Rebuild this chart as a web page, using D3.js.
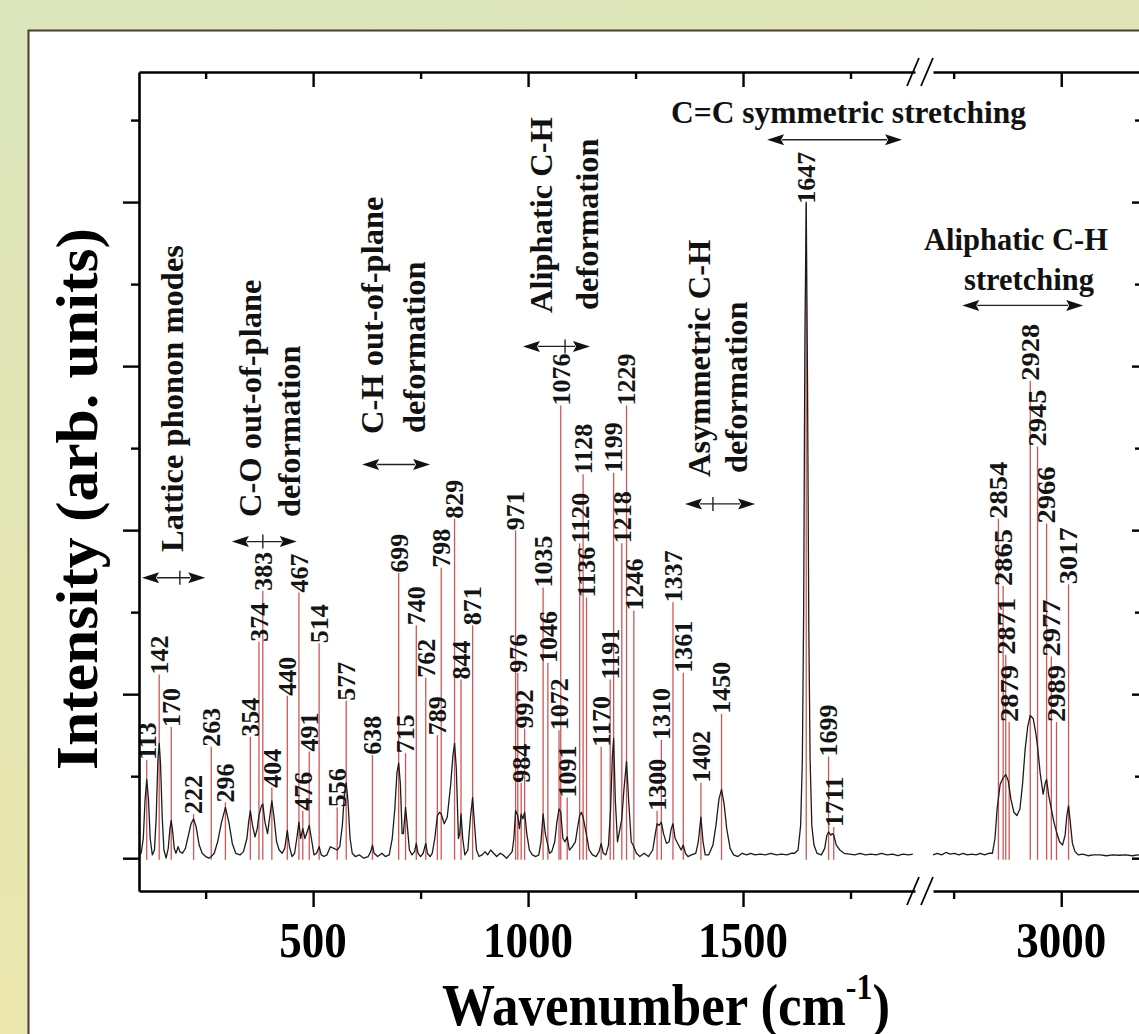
<!DOCTYPE html>
<html><head><meta charset="utf-8">
<script src="https://cdn.jsdelivr.net/npm/d3@7"></script>
<style>body{margin:0;background:#fff}svg{display:block}</style>
</head><body>
<svg id="chart" width="1139" height="1034"></svg>
<script>
// ---------------- DATA ----------------
// Raman spectrum, low-wavenumber segment: [wavenumber (cm-1), intensity (arb. units)]
const spectrumLow = [[95,0.02],[100,0.03],[105,0.12],[109,0.35],[113,0.48],[117,0.36],[121,0.12],[126,0.02],[131,0.05],[135,0.25],[139,0.6],[142,0.7],[145,0.58],[149,0.25],[153,0.05],[158,0.0],[163,0.06],[167,0.18],[170,0.23],[173,0.17],[177,0.06],[181,0.03],[186,0.07],[190,0.04],[196,0.03],[203,0.06],[210,0.14],[216,0.21],[222,0.24],[228,0.19],[235,0.08],[242,0.03],[250,0.01],[258,0.0],[263,0.01],[270,0.03],[278,0.1],[287,0.22],[296,0.31],[304,0.22],[312,0.09],[320,0.03],[330,0.02],[338,0.04],[346,0.12],[350,0.22],[354,0.29],[359,0.2],[365,0.13],[370,0.18],[374,0.26],[380,0.32],[383,0.33],[388,0.22],[394,0.15],[399,0.25],[404,0.35],[409,0.25],[415,0.1],[421,0.05],[428,0.03],[434,0.06],[440,0.17],[445,0.07],[451,0.01],[457,0.03],[462,0.12],[467,0.22],[471,0.12],[476,0.18],[481,0.12],[486,0.16],[491,0.2],[496,0.12],[502,0.02],[508,0.03],[514,0.07],[519,0.02],[525,0.01],[532,0.02],[540,0.07],[548,0.06],[556,0.05],[562,0.07],[568,0.2],[573,0.4],[577,0.46],[581,0.35],[586,0.12],[591,0.03],[598,0.01],[608,0.02],[618,0.0],[628,0.01],[634,0.04],[638,0.08],[642,0.03],[650,0.01],[660,0.03],[668,0.01],[677,0.02],[684,0.12],[690,0.3],[695,0.52],[699,0.58],[703,0.45],[707,0.15],[710,0.15],[715,0.31],[719,0.2],[724,0.05],[730,0.02],[736,0.04],[740,0.09],[744,0.03],[750,0.01],[756,0.03],[762,0.09],[766,0.03],[772,0.01],[777,0.03],[783,0.12],[789,0.26],[794,0.28],[798,0.27],[805,0.21],[812,0.25],[820,0.45],[825,0.62],[829,0.7],[833,0.55],[838,0.12],[841,0.15],[844,0.27],[848,0.12],[853,0.02],[860,0.05],[866,0.25],[871,0.37],[875,0.22],[880,0.05],[886,0.01],[893,0.02],[900,0.04],[906,0.02],[913,0.05],[920,0.03],[927,0.01],[935,0.03],[942,0.02],[950,0.0],[957,0.02],[963,0.04],[967,0.12],[971,0.29],[976,0.26],[980,0.18],[984,0.27],[988,0.24],[992,0.28],[997,0.15],[1003,0.05],[1010,0.02],[1018,0.01],[1025,0.02],[1030,0.1],[1035,0.27],[1040,0.15],[1046,0.08],[1050,0.03],[1055,0.04],[1062,0.1],[1067,0.22],[1072,0.3],[1076,0.28],[1081,0.12],[1086,0.1],[1091,0.13],[1096,0.05],[1103,0.07],[1110,0.1],[1116,0.2],[1120,0.26],[1124,0.28],[1128,0.25],[1133,0.18],[1136,0.14],[1142,0.05],[1150,0.02],[1158,0.01],[1165,0.04],[1170,0.09],[1175,0.03],[1181,0.02],[1187,0.08],[1192,0.3],[1196,0.62],[1199,0.73],[1203,0.35],[1208,0.1],[1213,0.17],[1218,0.24],[1223,0.42],[1229,0.59],[1234,0.35],[1240,0.1],[1246,0.07],[1252,0.03],[1260,0.01],[1270,0.03],[1280,0.01],[1290,0.05],[1296,0.15],[1300,0.21],[1305,0.2],[1310,0.22],[1315,0.15],[1322,0.09],[1328,0.1],[1333,0.18],[1337,0.21],[1342,0.12],[1350,0.08],[1356,0.05],[1361,0.08],[1366,0.03],[1372,0.01],[1380,0.02],[1390,0.03],[1396,0.1],[1402,0.25],[1407,0.1],[1412,0.02],[1420,0.02],[1430,0.08],[1437,0.2],[1444,0.36],[1450,0.42],[1456,0.33],[1462,0.18],[1470,0.06],[1478,0.02],[1488,0.01],[1498,0.03],[1508,0.02],[1518,0.03],[1528,0.02],[1540,0.025],[1552,0.02],[1565,0.03],[1578,0.02],[1590,0.025],[1602,0.02],[1612,0.03],[1620,0.03],[1628,0.05],[1634,0.2],[1638,0.6],[1641,1.5],[1644,3.2],[1647,4.0],[1650,2.9],[1653,1.4],[1656,0.6],[1660,0.2],[1665,0.08],[1672,0.03],[1682,0.02],[1690,0.06],[1695,0.14],[1699,0.16],[1704,0.14],[1708,0.15],[1711,0.14],[1717,0.08],[1725,0.05],[1735,0.03],[1748,0.025],[1760,0.02],[1772,0.03],[1785,0.02],[1798,0.025],[1810,0.02],[1822,0.03],[1835,0.02],[1848,0.025],[1860,0.015],[1872,0.025],[1885,0.02],[1895,0.025]];

// high-wavenumber segment (after the axis break)
const spectrumHigh = [[2702,0.02],[2712,0.03],[2722,0.02],[2732,0.035],[2742,0.025],[2752,0.03],[2762,0.02],[2772,0.03],[2782,0.02],[2792,0.025],[2802,0.02],[2812,0.03],[2822,0.02],[2832,0.03],[2840,0.03],[2846,0.12],[2851,0.3],[2858,0.45],[2865,0.49],[2871,0.51],[2877,0.47],[2883,0.36],[2890,0.28],[2897,0.26],[2904,0.3],[2910,0.45],[2916,0.66],[2922,0.8],[2928,0.87],[2935,0.85],[2941,0.76],[2945,0.68],[2951,0.52],[2958,0.39],[2963,0.46],[2966,0.48],[2971,0.38],[2977,0.3],[2983,0.22],[2989,0.16],[2996,0.1],[3003,0.08],[3009,0.14],[3013,0.26],[3017,0.32],[3021,0.22],[3026,0.09],[3032,0.04],[3040,0.02],[3050,0.025],[3062,0.015],[3075,0.02],[3090,0.02],[3105,0.015],[3120,0.02],[3135,0.018],[3150,0.02],[3165,0.015],[3180,0.02],[3190,0.02]];

// assigned peaks and the intensity level at which each label starts
const peakPositions = [113,142,170,222,263,296,354,374,383,404,440,467,476,491,514,556,577,638,699,715,740,762,789,798,829,844,871,971,976,984,992,1035,1046,1072,1076,1091,1120,1128,1136,1170,1191,1199,1218,1229,1246,1300,1310,1337,1361,1402,1450,1647,1699,1711,2854,2865,2871,2879,2928,2945,2966,2977,2989,3017];
const peakLabelLevels = [0.60,1.12,0.80,0.27,0.68,0.34,0.74,1.32,1.63,0.43,0.99,1.62,0.29,0.65,1.31,0.31,0.96,0.63,1.74,0.64,1.42,1.10,0.75,1.77,2.07,1.09,1.42,2.00,1.13,0.46,0.79,1.65,1.19,0.78,2.76,0.37,1.92,2.34,1.59,0.68,1.09,2.35,1.92,2.76,1.51,0.29,0.72,1.56,1.13,0.46,0.88,3.99,0.62,0.19,2.07,1.66,1.24,0.83,2.91,2.51,2.04,1.23,0.83,1.67];

// band assignments: text lines, arrow range (cm-1), arrow level (intensity), optional centre mark
const bandTitles = [["Lattice phonon modes"],["C-O out-of-plane","deformation"],["C-H out-of-plane","deformation"],["Aliphatic C-H","deformation"],["Asymmetric C-H","deformation"],["C=C symmetric stretching"],["Aliphatic C-H","stretching"]];
const bandRanges = [[102,249],[311,462],[614,772],[988,1144],[1365,1528],[1556,1870],[2770,3051]];
const bandArrowLevels = [1.71,1.93,2.40,3.12,2.16,4.38,3.37];
const bandCentreMarks = [190,383,null,1086,1430,null,null];

const xMajorTicksLow = [500,1000,1500];
const xMinorTicksLow = [250,750,1250,1750];
const xMajorTicksHigh = [3000];
const xMinorTicksHigh = [2750];
const xTickLabels = ["500","1000","1500","3000"];
const yMajorTicks = [0,1,2,3,4];
const yMinorTicks = [0.5,1.5,2.5,3.5,4.5];
const xTitle = "Wavenumber (cm";
const yTitle = "Intensity (arb. units)";

// ---------------- LAYOUT ----------------
const W = 1139, H = 1034;
const L = 139, T = 72, B = 891, R = 1143;
const FONT = "'Liberation Serif','Times New Roman',serif";
// rotated band title placement (baseline x, start y) in px
const bandTextLayout = [
  [[183,552]],
  [[261,517],[300,517]],
  [[383,434],[425,433]],
  [[552,313],[598,310]],
  [[710,477],[747,473]],
  null,
  null
];

const svg = d3.select("#chart");
const defs = svg.append("defs");
const grad = defs.append("linearGradient").attr("id","bg").attr("x1",0).attr("y1",0).attr("x2",0.3).attr("y2",1);
grad.append("stop").attr("offset","0%").attr("stop-color","#dbe5bc");
grad.append("stop").attr("offset","100%").attr("stop-color","#ece6ac");
svg.append("rect").attr("width",W).attr("height",H).attr("fill","url(#bg)");
svg.append("rect").attr("x",28.5).attr("y",30.5).attr("width",W).attr("height",H)
  .attr("fill","#fff").attr("stroke","#4a3b30").attr("stroke-width",2);

const xLow = d3.scaleLinear().domain([95,1900]).range([L,915]);
const xHigh = d3.scaleLinear().domain([2702,3190]).range([933,R]);
const xAny = w => (w < 2300 ? xLow(w) : xHigh(w));
const y = d3.scaleLinear().domain([-0.2,4.793]).range([B,T]);

// red assignment lines
const g = svg.append("g");
g.selectAll("line.peak").data(peakPositions).join("line")
  .attr("class","peak")
  .attr("x1",d=>xAny(d)).attr("x2",d=>xAny(d))
  .attr("y1",y(-0.01)).attr("y2",(d,i)=>y(peakLabelLevels[i]))
  .attr("stroke","#c84545").attr("stroke-width",1.3).attr("stroke-opacity",0.9);

// spectrum
const line = sc => d3.line().x(d=>sc(d[0])).y(d=>y(d[1]));
g.append("path").datum(spectrumLow).attr("d",line(xLow))
  .attr("fill","none").attr("stroke","#1c1c1c").attr("stroke-width",1.3).attr("stroke-linejoin","round");
g.append("path").datum(spectrumHigh).attr("d",line(xHigh))
  .attr("fill","none").attr("stroke","#1c1c1c").attr("stroke-width",1.3).attr("stroke-linejoin","round");

// peak labels
g.selectAll("text.peak").data(peakPositions).join("text")
  .attr("class","peak")
  .attr("transform",(d,i)=>`translate(${xAny(d)},${y(peakLabelLevels[i])}) rotate(-90)`)
  .attr("dy","0.34em").attr("text-anchor","start")
  .attr("font-family",FONT).attr("font-weight","bold").attr("font-size",26).attr("fill","#141414")
  .each(function(d){ if(d>2300) d3.select(this).attr("textLength",57).attr("lengthAdjust","spacingAndGlyphs"); })
  .text(d=>d);

// axes
function styleAxis(sel, keepDomain){
  sel.selectAll("text").remove();
  sel.selectAll(".tick line").attr("stroke","#000").attr("stroke-width",2.4);
  if(keepDomain) sel.select(".domain").attr("stroke","#000").attr("stroke-width",2.6);
  else sel.select(".domain").remove();
}
const ax = svg.append("g");
// bottom
ax.append("g").attr("transform",`translate(0,${B})`).call(d3.axisBottom(xLow).tickValues(xMajorTicksLow).tickSize(16).tickSizeOuter(0)).call(s=>styleAxis(s,true));
ax.append("g").attr("transform",`translate(0,${B})`).call(d3.axisBottom(xLow).tickValues(xMinorTicksLow).tickSize(8)).call(s=>styleAxis(s,false));
ax.append("g").attr("transform",`translate(0,${B})`).call(d3.axisBottom(xHigh).tickValues(xMajorTicksHigh).tickSize(16).tickSizeOuter(0)).call(s=>styleAxis(s,true));
ax.append("g").attr("transform",`translate(0,${B})`).call(d3.axisBottom(xHigh).tickValues(xMinorTicksHigh).tickSize(8)).call(s=>styleAxis(s,false));
// top (inward)
ax.append("g").attr("transform",`translate(0,${T})`).call(d3.axisTop(xLow).tickValues(xMajorTicksLow).tickSize(-15).tickSizeOuter(0)).call(s=>styleAxis(s,true));
ax.append("g").attr("transform",`translate(0,${T})`).call(d3.axisTop(xLow).tickValues(xMinorTicksLow).tickSize(-7)).call(s=>styleAxis(s,false));
ax.append("g").attr("transform",`translate(0,${T})`).call(d3.axisTop(xHigh).tickValues(xMajorTicksHigh).tickSize(-15).tickSizeOuter(0)).call(s=>styleAxis(s,true));
ax.append("g").attr("transform",`translate(0,${T})`).call(d3.axisTop(xHigh).tickValues(xMinorTicksHigh).tickSize(-7)).call(s=>styleAxis(s,false));
// left (outward)
ax.append("g").attr("transform",`translate(${L},0)`).call(d3.axisLeft(y).tickValues(yMajorTicks).tickSize(16).tickSizeOuter(0)).call(s=>styleAxis(s,true));
ax.append("g").attr("transform",`translate(${L},0)`).call(d3.axisLeft(y).tickValues(yMinorTicks).tickSize(8)).call(s=>styleAxis(s,false));
// right (inward)
ax.append("g").attr("transform",`translate(${R},0)`).call(d3.axisRight(y).tickValues(yMajorTicks).tickSize(-11).tickSizeOuter(0)).call(s=>styleAxis(s,true));
ax.append("g").attr("transform",`translate(${R},0)`).call(d3.axisRight(y).tickValues(yMinorTicks).tickSize(-8)).call(s=>styleAxis(s,false));

// break marks
[T,B].forEach(yy=>{
  [[907,919],[921,933]].forEach(([a,b])=>{
    ax.append("line").attr("x1",a).attr("y1",yy+14).attr("x2",b).attr("y2",yy-14)
      .attr("stroke","#000").attr("stroke-width",1.8);
  });
});

// tick labels (slightly tall glyphs, as in the reference)
const tickVals = xMajorTicksLow.concat(xMajorTicksHigh);
ax.selectAll("text.xt").data(tickVals).join("text").attr("class","xt")
  .attr("transform",d=>`translate(${xAny(d)},957) scale(1,1.14)`).attr("text-anchor","middle")
  .attr("font-family",FONT).attr("font-weight","bold").attr("font-size",45).attr("fill","#000")
  .text((d,i)=>xTickLabels[i]);

// axis titles
const xt = svg.append("text").attr("transform","translate(442,1025) scale(1,1.1)")
  .attr("font-family",FONT).attr("font-weight","bold").attr("font-size",53).attr("fill","#000");
xt.append("tspan").text(xTitle);
xt.append("tspan").attr("font-size",32).attr("dy",-24).text("-1");
xt.append("tspan").attr("dy",24).text(")");

svg.append("text").attr("transform","translate(97,499) rotate(-90)")
  .attr("text-anchor","middle").attr("font-family",FONT).attr("font-weight","bold")
  .attr("font-size",60).attr("textLength",542).attr("lengthAdjust","spacingAndGlyphs").attr("fill","#000")
  .text(yTitle);

// band annotations
const ann = svg.append("g");
function arrow(x1,x2,yy){
  const hl=17, hw=5.5;
  ann.append("line").attr("x1",x1+hl-2).attr("x2",x2-hl+2).attr("y1",yy).attr("y2",yy)
    .attr("stroke","#222").attr("stroke-width",1.4);
  ann.append("path").attr("d",`M${x1},${yy}L${x1+hl},${yy-hw}L${x1+hl-3},${yy}L${x1+hl},${yy+hw}Z`).attr("fill","#111");
  ann.append("path").attr("d",`M${x2},${yy}L${x2-hl},${yy-hw}L${x2-hl+3},${yy}L${x2-hl},${yy+hw}Z`).attr("fill","#111");
}
bandTitles.forEach((lines,i)=>{
  const [w1,w2]=bandRanges[i];
  const yy=y(bandArrowLevels[i]);
  arrow(xAny(w1),xAny(w2),yy);
  if(bandCentreMarks[i]!==null){
    const cx=xAny(bandCentreMarks[i]);
    ann.append("line").attr("x1",cx).attr("x2",cx).attr("y1",yy-7).attr("y2",yy+7).attr("stroke","#222").attr("stroke-width",1.4);
  }
  const lay=bandTextLayout[i];
  if(lay){
    lines.forEach((t,j)=>{
      ann.append("text").attr("transform",`translate(${lay[j][0]},${lay[j][1]}) rotate(-90)`)
        .attr("text-anchor","start").attr("font-family",FONT).attr("font-weight","bold")
        .attr("font-size",32.5).attr("fill","#111").text(t);
    });
  }
});
// horizontal band titles
ann.append("text").attr("x",671).attr("y",123).attr("font-family",FONT).attr("font-weight","bold")
  .attr("font-size",31.5).attr("fill","#111").text(bandTitles[5][0]);
ann.append("text").attr("x",1016).attr("y",250).attr("text-anchor","middle").attr("font-family",FONT).attr("font-weight","bold")
  .attr("font-size",30.5).attr("fill","#111").text(bandTitles[6][0]);
ann.append("text").attr("x",1029).attr("y",290).attr("text-anchor","middle").attr("font-family",FONT).attr("font-weight","bold")
  .attr("font-size",30.5).attr("fill","#111").text(bandTitles[6][1]);
</script>
</body></html>
